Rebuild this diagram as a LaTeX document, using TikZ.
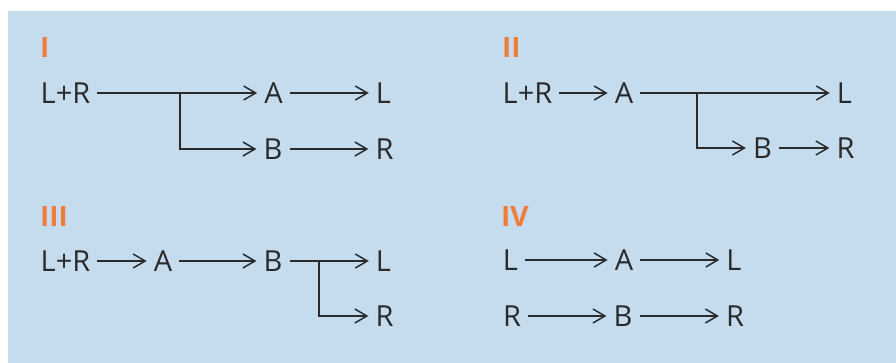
\documentclass[tikz,border=0pt]{standalone}
\usepackage{fontspec}
\setmainfont{Open Sans}
\usetikzlibrary{arrows.meta}
\definecolor{panelblue}{HTML}{C5DCEE}
\definecolor{labelorange}{HTML}{EF7D3A}
\definecolor{inkgrey}{HTML}{2A2A2A}

\begin{document}
\begin{tikzpicture}[x=1pt, y=-1pt,
    sp/.style={inner xsep=7pt, inner ysep=0pt, text height=21pt, text depth=0pt,
        font=\fontsize{29}{34}\selectfont, text=inkgrey},
    tag/.style={anchor=west, inner sep=0pt, text height=20pt, text depth=0pt,
        font=\fontsize{28}{34}\selectfont\bfseries, text=labelorange},
    flow/.style={-{Straight Barb[length=12pt, width=14pt]}, line width=1.5pt, draw=inkgrey}]
    \useasboundingbox (0,0) rectangle (896,363);
    \fill[panelblue] (8,11) rectangle (896,363);

    % Case I
    \node[tag] (tI) at (40,48) {I};
    \node[sp] (lrI) at (65.5,93) {L+R};
    \node[sp] (aI) at (273.5,93) {A};
    \node[sp] (lI) at (383.5,93) {L};
    \node[sp] (bI) at (273,149) {B};
    \node[sp] (rI) at (384.5,149) {R};
    \coordinate (kI) at (180,93);
    \draw[flow] (lrI) -- (aI);
    \draw[flow] (aI) -- (lI);
    \draw[flow] (kI) |- (bI);
    \draw[flow] (bI) -- (rI);

    % Case II
    \node[tag] (tII) at (502,48) {II};
    \node[sp] (lrII) at (527.5,93) {L+R};
    \node[sp] (aII) at (624,93) {A};
    \node[sp] (lII) at (844.5,93) {L};
    \node[sp] (bII) at (762.5,148) {B};
    \node[sp] (rII) at (845.5,148) {R};
    \coordinate (kII) at (697,93);
    \draw[flow] (lrII) -- (aII);
    \draw[flow] (aII) -- (lII);
    \draw[flow] (kII) |- (bII);
    \draw[flow] (bII) -- (rII);

    % Case III
    \node[tag] (tIII) at (40,216.5) {III};
    \node[sp] (lrIII) at (65.5,261) {L+R};
    \node[sp] (aIII) at (163,261) {A};
    \node[sp] (bIII) at (273,261) {B};
    \node[sp] (lIII) at (383.5,261) {L};
    \node[sp] (rIII) at (384.5,316) {R};
    \coordinate (kIII) at (319,261);
    \draw[flow] (lrIII) -- (aIII);
    \draw[flow] (aIII) -- (bIII);
    \draw[flow] (bIII) -- (lIII);
    \draw[flow] (kIII) |- (rIII);

    % Case IV
    \node[tag] (tIV) at (501,216.5) {IV};
    \node[sp] (lIV) at (510.5,260) {L};
    \node[sp] (aIV) at (624,260) {A};
    \node[sp] (llIV) at (734,260) {L};
    \node[sp] (rIV) at (512,316) {R};
    \node[sp] (bIV) at (623,316) {B};
    \node[sp] (rrIV) at (735,316) {R};
    \draw[flow] (lIV) -- (aIV);
    \draw[flow] (aIV) -- (llIV);
    \draw[flow] (rIV) -- (bIV);
    \draw[flow] (bIV) -- (rrIV);
\end{tikzpicture}
\end{document}
